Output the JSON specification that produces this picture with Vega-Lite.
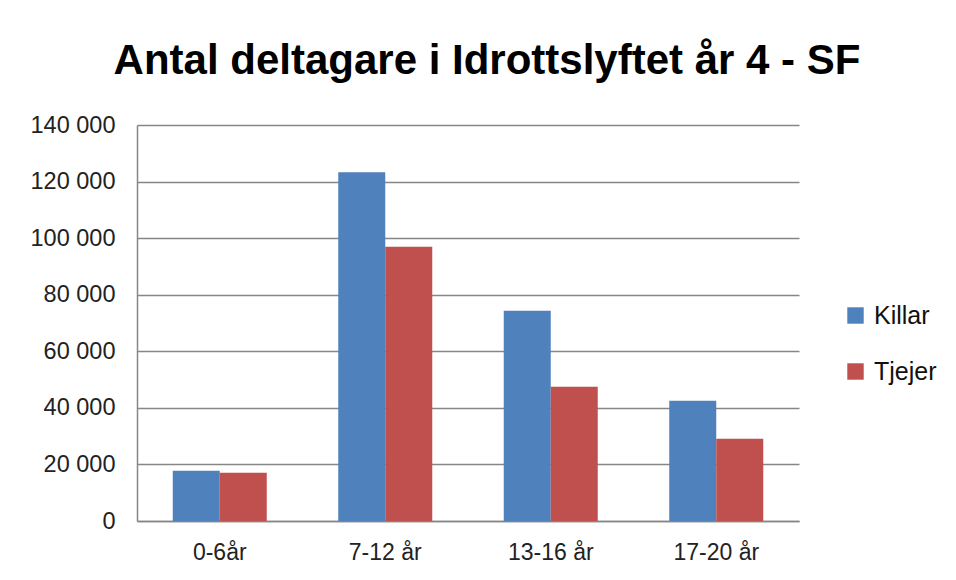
{
  "$schema": "https://vega.github.io/schema/vega-lite/v6.json",
  "width": 662,
  "height": 396,
  "autosize": "none",
  "padding": {"left": 137, "top": 125, "right": 157, "bottom": 59},
  "background": "white",
  "title": {
    "text": "Antal deltagare i Idrottslyftet år 4 - SF",
    "font": "Liberation Sans",
    "fontSize": 42,
    "fontWeight": "bold",
    "color": "#000000",
    "anchor": "middle",
    "dx": 19,
    "offset": 30
  },
  "data": {
    "values": [
      {"alder": "0-6år", "kon": "Killar", "antal": 17800},
      {"alder": "0-6år", "kon": "Tjejer", "antal": 17100},
      {"alder": "7-12 år", "kon": "Killar", "antal": 123300},
      {"alder": "7-12 år", "kon": "Tjejer", "antal": 97000},
      {"alder": "13-16 år", "kon": "Killar", "antal": 74300},
      {"alder": "13-16 år", "kon": "Tjejer", "antal": 47500},
      {"alder": "17-20 år", "kon": "Killar", "antal": 42500},
      {"alder": "17-20 år", "kon": "Tjejer", "antal": 29100}
    ]
  },
  "mark": {"type": "bar"},
  "encoding": {
    "x": {
      "field": "alder",
      "type": "nominal",
      "sort": ["0-6år", "7-12 år", "13-16 år", "17-20 år"],
      "scale": {"paddingInner": 0.432, "paddingOuter": 0.216},
      "axis": {
        "title": null,
        "labelAngle": 0,
        "labelFont": "Liberation Sans",
        "labelFontSize": 23,
        "labelColor": "#222222",
        "labelPadding": 20,
        "ticks": false,
        "domain": true,
        "domainColor": "#868686",
        "domainWidth": 1.5
      }
    },
    "xOffset": {
      "field": "kon",
      "type": "nominal",
      "sort": ["Killar", "Tjejer"],
      "scale": {"paddingInner": 0, "paddingOuter": 0}
    },
    "y": {
      "field": "antal",
      "type": "quantitative",
      "scale": {"domain": [0, 140000], "nice": false},
      "axis": {
        "title": null,
        "values": [0, 20000, 40000, 60000, 80000, 100000, 120000, 140000],
        "labelExpr": "replace(format(datum.value, ','), ',', ' ')",
        "labelFont": "Liberation Sans",
        "labelFontSize": 23.5,
        "labelColor": "#222222",
        "labelPadding": 22,
        "ticks": false,
        "domain": true,
        "domainColor": "#868686",
        "domainWidth": 1.5,
        "grid": true,
        "gridColor": "#868686",
        "gridWidth": 1.5
      }
    },
    "color": {
      "field": "kon",
      "type": "nominal",
      "scale": {"domain": ["Killar", "Tjejer"], "range": ["#4F81BD", "#C0504D"]},
      "legend": {
        "title": null,
        "orient": "none",
        "legendX": 706,
        "legendY": 178,
        "padding": 0,
        "symbolType": "square",
        "symbolSize": 270,
        "symbolStrokeWidth": 0,
        "labelFont": "Liberation Sans",
        "labelFontSize": 25,
        "labelColor": "#111111",
        "labelOffset": 6,
        "rowPadding": 30
      }
    }
  },
  "config": {
    "view": {"stroke": null}
  }
}
